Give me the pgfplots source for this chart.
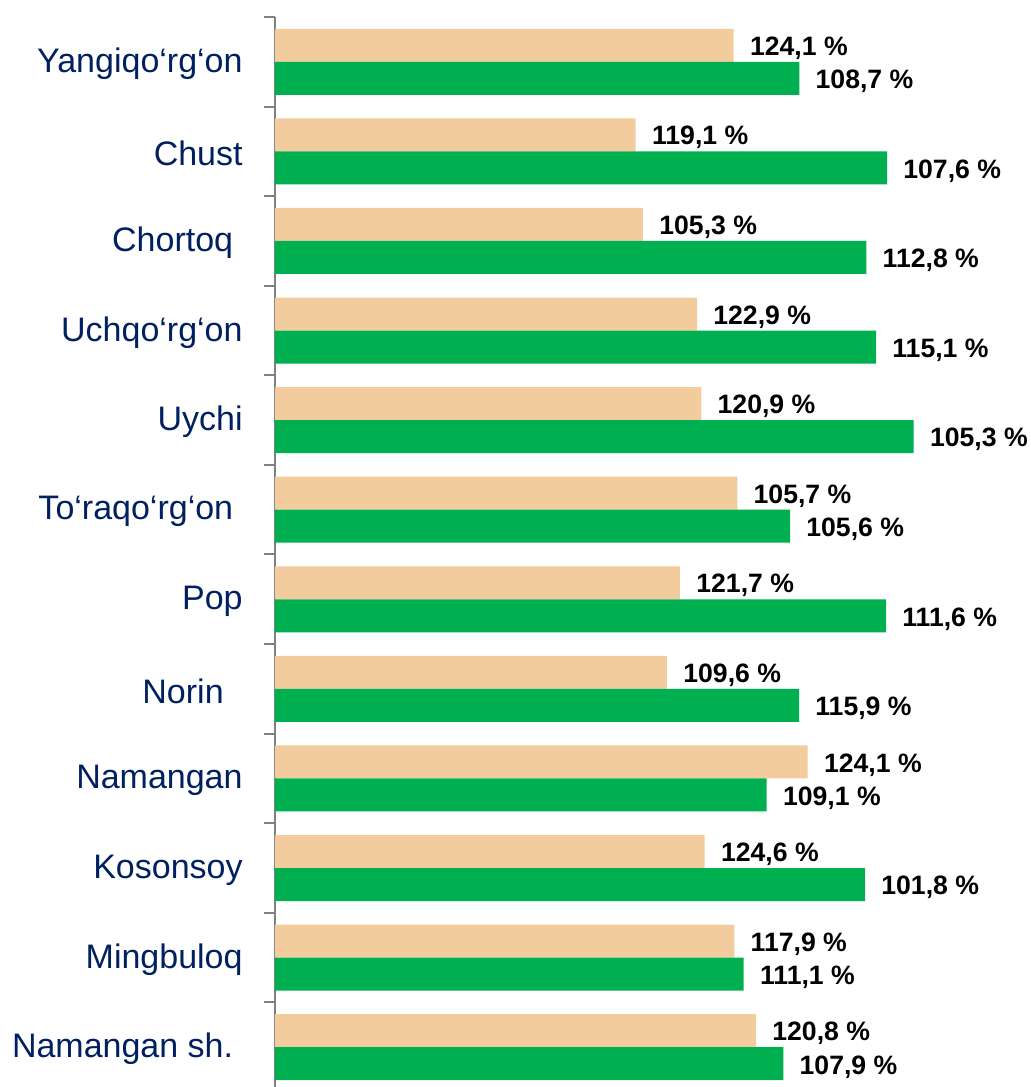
\documentclass[border=0pt]{standalone}
\usepackage{fontspec}
\setmainfont{Liberation Sans}
\usepackage{pgfplots}
\usepackage{pgfplotstable}
\pgfplotsset{compat=1.18}
\definecolor{barBeige}{RGB}{243,204,158}
\definecolor{barGreen}{RGB}{0,176,80}
\definecolor{navyText}{RGB}{0,32,96}
\definecolor{axisGray}{RGB}{128,128,128}
\newcommand\tsp{\hspace*{0.278em}}

% y = category slot (11 = top), len = drawn bar length, val = printed value
\pgfplotstableread{
y   len    val
11  458.7  124.1
10  360.7  119.1
9   368.0  105.3
8   422.0  122.9
7   426.3  120.9
6   462.3  105.7
5   405.0  121.7
4   392.0  109.6
3   532.7  124.1
2   429.7  124.6
1   459.3  117.9
0   481.0  120.8
}\beigedata

\pgfplotstableread{
y   len    val
11  524.3  108.7
10  612.0  107.6
9   591.3  112.8
8   601.0  115.1
7   638.7  105.3
6   515.0  105.6
5   611.0  111.6
4   524.0  115.9
3   491.7  109.1
2   590.0  101.8
1   468.7  111.1
0   508.3  107.9
}\greendata

\begin{document}
\begin{tikzpicture}
\begin{axis}[
  scale only axis,
  width=377.5pt, height=537.5pt,
  xbar, bar width=16.5pt,
  xmin=0, xmax=755,
  ymin=-0.5, ymax=11.5,
  axis x line=none,
  axis y line*=left,
  axis line style={axisGray, line width=1pt, -},
  ytick={0,...,11},
  yticklabels={Namangan sh.\tsp, Mingbuloq, Kosonsoy, Namangan, Norin\tsp\tsp,
    Pop, To‘raqo‘rg‘on\tsp, Uychi, Uchqo‘rg‘on, Chortoq\tsp, Chust, Yangiqo‘rg‘on},
  minor ytick={-0.5,0.5,...,11.5},
  major tick length=0pt,
  minor tick length=5.5pt,
  tick align=outside,
  tick style={axisGray, line width=1pt},
  yticklabel style={font=\fontsize{17}{20}\selectfont, text=navyText,
    anchor=east, inner sep=0pt, xshift=-16pt, yshift=-1pt},
  /pgf/number format/assume math mode=true,
  point meta=explicit,
  nodes near coords={\pgfmathprintnumber[use comma,fixed,fixed zerofill,precision=1]{\pgfplotspointmeta}~\%},
  every node near coord/.style={font=\fontsize{13.3}{15}\selectfont\bfseries,
    text=black, anchor=west, inner sep=0pt, xshift=8pt},
  clip=false,
]
\addplot[draw=none, fill=barBeige, bar shift=8.25pt,
  every node near coord/.append style={yshift=6.8pt}]
  table[x=len, y=y, meta=val] {\beigedata};
\addplot[draw=none, fill=barGreen, bar shift=-8.25pt,
  every node near coord/.append style={yshift=-9.8pt}]
  table[x=len, y=y, meta=val] {\greendata};
\end{axis}
\pgfresetboundingbox
\path[use as bounding box] ([xshift=-137.5pt,yshift=2.5pt]current axis.south west)
  rectangle ([yshift=8.5pt]current axis.north east);
\end{tikzpicture}
\end{document}
